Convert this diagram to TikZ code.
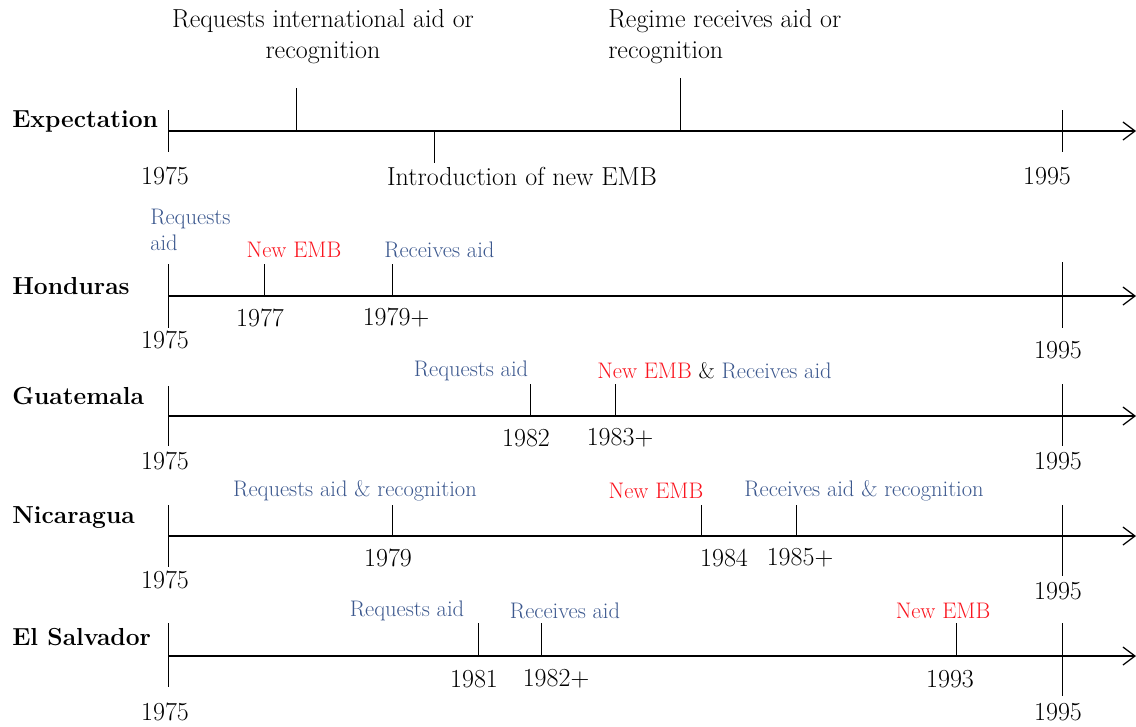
\documentclass[tikz,border=0pt]{standalone}
\usetikzlibrary{arrows.meta}
\definecolor{aidblue}{RGB}{60,88,142}
\definecolor{embred}{RGB}{250,20,30}
\begin{document}
\begin{tikzpicture}[x=0.025cm, y=-0.025cm,
  every node/.style={font=\fontsize{18.5}{22}\selectfont, inner sep=0pt},
  axis/.style={line width=0.9pt, -{Straight Barb[length=3mm,width=4.5mm]}},
  tick/.style={line width=0.6pt},
  row/.style={font=\fontsize{17.5}{22}\selectfont\bfseries, anchor=west},
  aid/.style={text=aidblue, font=\fontsize{16}{19}\selectfont},
  emb/.style={text=embred, font=\fontsize{16}{19}\selectfont}]
\useasboundingbox (0,0) rectangle (1136,726);

% Expectation
\node[row] (exp) at (12,122) {Expectation};
\coordinate (exp0) at (168,131);
\coordinate (exp1) at (1136,131);
\draw[axis] (exp0) -- (exp1);
\draw[tick] (168,110) -- (168,152);
\draw[tick] (296,88) -- (296,131);
\draw[tick] (434,131) -- (434,163);
\draw[tick] (680,78) -- (680,131);
\draw[tick] (1062,110) -- (1062,152);
\node[align=center] (expreq) at (323,37) {Requests international aid or\\recognition};
\node[align=left, anchor=west] (exprec) at (608,37) {Regime receives aid or\\recognition};
\node (expemb) at (522,176) {Introduction of new EMB};
\node (exps) at (165,176) {1975};
\node (expe) at (1047,176) {1995};

% Honduras
\node[row] (hon) at (12,286) {Honduras};
\coordinate (hon0) at (168,296);
\coordinate (hon1) at (1136,296);
\draw[axis] (hon0) -- (hon1);
\draw[tick] (168,264) -- (168,328);
\draw[tick] (264,264) -- (264,296);
\draw[tick] (392,264) -- (392,296);
\draw[tick] (1062,262) -- (1062,328);
\node[aid, align=left, anchor=west, font=\fontsize{16}{18}\selectfont] (honreq) at (150,230) {Requests\\aid};
\node[emb] (honemb) at (294,250) {New EMB};
\node[aid, anchor=west] (honrec) at (384,250) {Receives aid};
\node (hon77) at (260,318) {1977};
\node (hon79) at (396,318) {1979+};
\node (hons) at (165,340) {1975};
\node (hone) at (1058,350) {1995};

% Guatemala
\node[row] (gua) at (12,396) {Guatemala};
\coordinate (gua0) at (168,416);
\coordinate (gua1) at (1136,416);
\draw[axis] (gua0) -- (gua1);
\draw[tick] (168,386) -- (168,446);
\draw[tick] (530,384) -- (530,416);
\draw[tick] (615,384) -- (615,416);
\draw[tick] (1062,384) -- (1062,446);
\node[aid] (guareq) at (471,371) {Requests aid};
\node[anchor=west, font=\fontsize{16}{19}\selectfont] (guarec) at (597,371) {\textcolor{embred}{New EMB} \& \textcolor{aidblue}{Receives aid}};
\node (gua82) at (526,438) {1982};
\node (gua83) at (620,438) {1983+};
\node (guas) at (165,461) {1975};
\node (guae) at (1058,461) {1995};

% Nicaragua
\node[row] (nic) at (12,518) {Nicaragua};
\coordinate (nic0) at (168,536);
\coordinate (nic1) at (1136,536);
\draw[axis] (nic0) -- (nic1);
\draw[tick] (168,505) -- (168,567);
\draw[tick] (392,505) -- (392,536);
\draw[tick] (701,505) -- (701,536);
\draw[tick] (796,505) -- (796,536);
\draw[tick] (1062,505) -- (1062,576);
\node[aid] (nicreq) at (355,491) {Requests aid \& recognition};
\node[emb] (nicemb) at (656,491) {New EMB};
\node[aid] (nicrec) at (864,491) {Receives aid \& recognition};
\node (nic79) at (388,558) {1979};
\node (nic84) at (724,558) {1984};
\node (nic85) at (800,558) {1985+};
\node (nics) at (165,580) {1975};
\node (nice) at (1058,591) {1995};

% El Salvador
\node[row] (sal) at (12,637) {El Salvador};
\coordinate (sal0) at (168,656);
\coordinate (sal1) at (1136,656);
\draw[axis] (sal0) -- (sal1);
\draw[tick] (168,623) -- (168,687);
\draw[tick] (478,623) -- (478,656);
\draw[tick] (541,623) -- (541,656);
\draw[tick] (956,623) -- (956,656);
\draw[tick] (1062,623) -- (1062,696);
\node[aid] (salreq) at (407,611) {Requests aid};
\node[aid] (salrec) at (565,611) {Receives aid};
\node[emb] (salemb) at (943,611) {New EMB};
\node (sal81) at (474,679) {1981};
\node (sal82) at (556,679) {1982+};
\node (sal93) at (950,679) {1993};
\node (sals) at (165,712) {1975};
\node (sale) at (1058,712) {1995};
\end{tikzpicture}
\end{document}
